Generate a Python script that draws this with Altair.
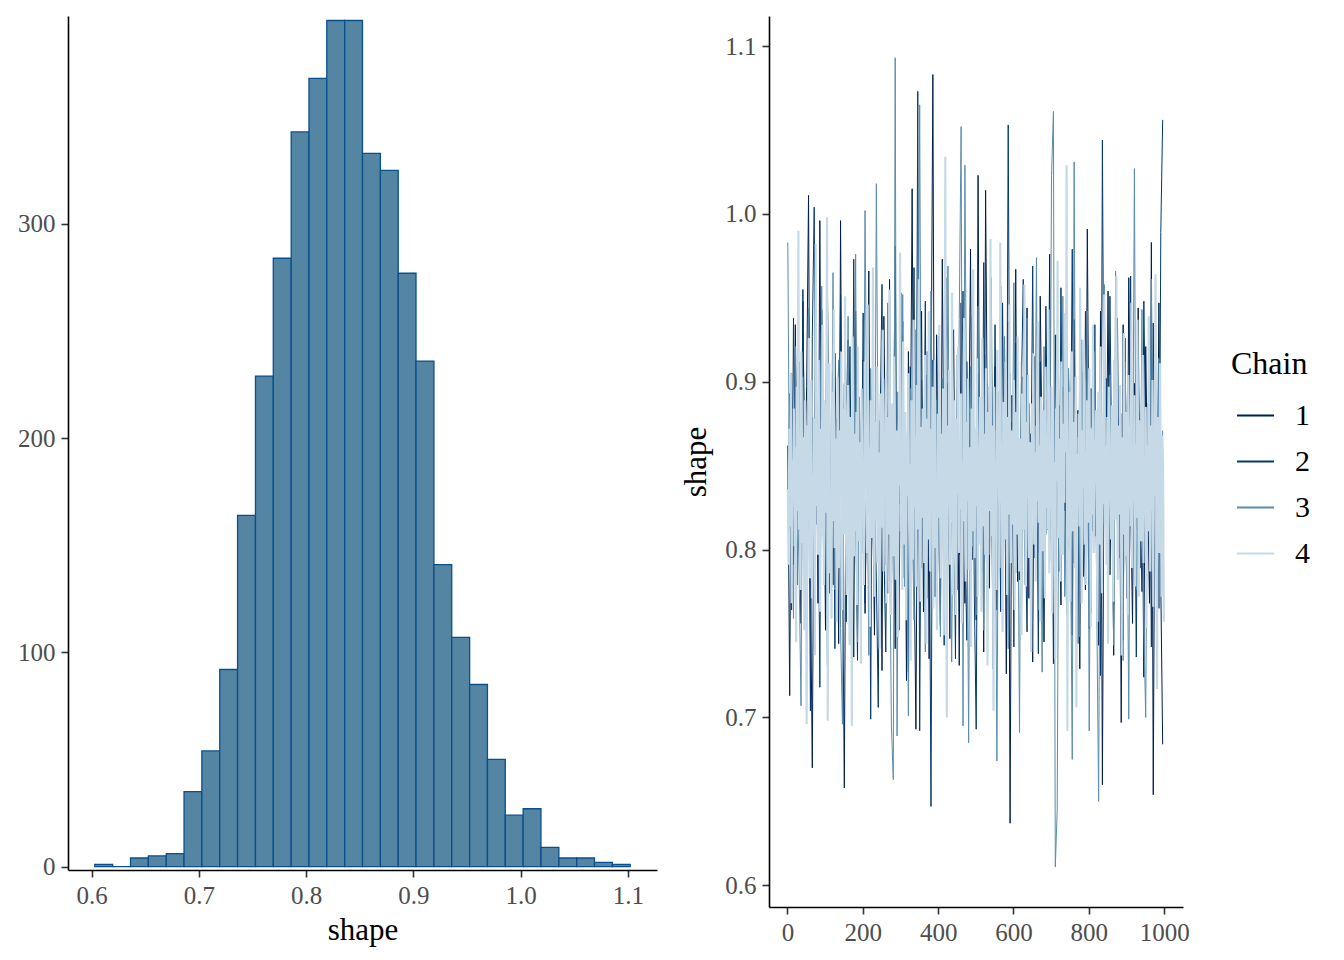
import altair as alt
import pandas as pd

FONT = "Liberation Serif"

# ---------------- histogram (left panel) ----------------
hist_edges = [0.6029, 0.6195, 0.6362, 0.6528, 0.6695, 0.6861, 0.7027, 0.7194,
              0.7360, 0.7527, 0.7693, 0.7860, 0.8026, 0.8192, 0.8359, 0.8525,
              0.8692, 0.8858, 0.9024, 0.9191, 0.9357, 0.9524, 0.9690, 0.9856,
              1.0023, 1.0189, 1.0356, 1.0522, 1.0688, 1.0855, 1.1021]
hist_counts = [1, 0, 4, 5, 6, 35, 54, 92, 164, 229, 284, 343, 368, 395, 395,
               333, 325, 277, 236, 141, 107, 85, 50, 24, 27, 9, 4, 4, 2, 1]
hist_ticks = [0.6, 0.7, 0.8, 0.9, 1.0, 1.1]
count_ticks = [0, 100, 200, 300]

# ---------------- trace (right panel) ----------------
iterations_dark = list(range(1, 1001, 5))    # chains 1-3
iterations_light = list(range(1, 1001, 2))   # chain 4
chain_names = ["1", "2", "3", "4"]
chain_colors = ["#011f4b", "#03396c", "#5a8cab", "#c6d9e7"]
chain_widths = [1.0, 1.0, 1.0, 2.2]
iter_ticks = [0, 200, 400, 600, 800, 1000]
shape_ticks = [0.6, 0.7, 0.8, 0.9, 1.0, 1.1]

chain1 = [
    0.862, 0.713, 0.905, 0.791, 0.934, 0.818, 0.876, 0.756, 0.948, 0.829,
    0.897, 1.011, 0.784, 0.670, 0.872, 0.931, 0.768, 0.996, 0.813, 0.889,
    0.752, 0.958, 0.801, 0.846, 0.779, 0.917, 0.838, 0.744, 0.996, 0.807,
    0.658, 0.883, 0.925, 0.771, 0.859, 0.736, 0.942, 0.824, 0.868, 0.795,
    0.913, 0.762, 0.851, 0.966, 0.787, 0.835, 0.749, 0.902, 0.816, 0.877,
    0.728, 0.939, 0.843, 0.774, 0.961, 0.809, 0.866, 0.741, 0.894, 0.827,
    0.953, 0.783, 0.871, 0.722, 0.918, 0.846, 1.015, 0.798, 0.693, 0.884,
    0.811, 0.942, 0.763, 0.857, 0.904, 0.735, 0.881, 1.083, 0.772, 0.928,
    0.819, 0.755, 0.973, 0.838, 0.786, 0.899, 0.747, 0.864, 0.931, 0.804,
    0.878, 0.731, 0.947, 0.826, 0.768, 0.912, 0.853, 0.979, 0.794, 0.839,
    0.758, 1.023, 0.815, 0.886, 0.739, 1.014, 0.861, 0.777, 0.924, 0.832,
    0.909, 0.764, 0.851, 0.957, 0.789, 0.873, 0.726, 0.936, 0.637, 0.892,
    0.818, 0.967, 0.781, 0.848, 0.752, 0.903, 0.836, 0.944, 0.771, 0.869,
    0.733, 0.915, 0.824, 0.798, 0.951, 0.857, 0.745, 0.889, 0.812, 0.976,
    0.791, 0.862, 0.738, 0.928, 0.845, 0.767, 0.897, 0.823, 0.959, 0.801,
    0.874, 0.749, 0.937, 0.816, 0.883, 0.729, 0.906, 0.852, 0.776, 0.991,
    0.834, 0.762, 0.918, 0.808, 0.871, 0.743, 0.942, 0.660, 0.886, 0.827,
    0.954, 0.785, 0.861, 0.737, 0.913, 0.819, 0.878, 0.697, 0.934, 0.843,
    0.771, 0.962, 0.828, 0.756, 0.899, 0.812, 0.944, 0.789, 0.867, 0.724,
    0.921, 0.838, 0.768, 0.983, 0.654, 0.892, 0.806, 0.947, 0.779, 0.684,
]
chain2 = [
    0.821, 0.893, 0.764, 0.938, 0.847, 0.779, 0.912, 0.803, 0.955, 0.836,
    0.748, 0.881, 0.704, 0.927, 1.004, 0.815, 0.869, 0.718, 0.943, 0.792,
    0.859, 0.967, 0.774, 0.833, 0.906, 0.741, 0.878, 0.812, 0.952, 0.785,
    0.899, 0.757, 0.846, 0.921, 0.798, 0.973, 0.826, 0.734, 0.887, 0.809,
    0.941, 0.768, 0.854, 0.892, 0.699, 0.917, 0.831, 0.783, 0.706, 0.874,
    0.958, 0.803, 0.739, 0.866, 0.925, 0.776, 0.848, 0.981, 0.817, 0.752,
    0.884, 0.936, 0.793, 0.862, 0.727, 0.909, 0.841, 0.968, 0.786, 1.073,
    0.692, 0.901, 0.823, 0.948, 0.771, 0.855, 0.647, 0.913, 0.838, 0.759,
    0.927, 0.806, 0.871, 0.743, 0.962, 0.829, 0.781, 0.893, 0.854, 0.735,
    0.916, 0.797, 0.868, 0.954, 0.812, 0.746, 0.882, 0.831, 0.939, 0.773,
    0.693, 0.905, 0.844, 0.787, 0.971, 0.822, 0.758, 0.897, 0.861, 0.729,
    0.934, 0.809, 0.872, 0.763, 0.947, 0.836, 0.791, 1.053, 0.818, 0.876,
    0.742, 0.923, 0.857, 0.782, 0.896, 0.961, 0.814, 0.751, 0.887, 0.833,
    0.969, 0.795, 0.864, 0.738, 0.912, 0.827, 0.778, 0.945, 0.851, 0.806,
    0.889, 0.732, 0.928, 0.843, 0.787, 0.956, 0.819, 0.874, 0.761, 0.907,
    0.837, 0.979, 0.792, 0.859, 0.744, 0.918, 0.826, 0.784, 0.942, 0.865,
    0.753, 0.896, 0.811, 0.934, 0.776, 0.853, 0.725, 1.044, 0.832, 0.902,
    0.789, 0.951, 0.845, 0.767, 0.884, 0.938, 0.801, 0.863, 0.746, 0.926,
    0.818, 0.872, 0.963, 0.794, 0.857, 0.736, 0.911, 0.829, 0.775, 0.948,
    0.861, 0.807, 0.893, 0.742, 0.935, 0.822, 0.879, 0.765, 0.989, 1.056,
]
chain3 = [
    0.983, 0.812, 0.874, 0.759, 0.921, 0.838, 0.786, 0.707, 0.903, 0.851,
    0.768, 0.944, 0.827, 0.879, 0.741, 0.916, 0.803, 0.862, 0.957, 0.794,
    0.846, 0.731, 0.897, 0.819, 0.965, 0.776, 0.868, 0.913, 0.753, 0.696,
    0.885, 0.807, 0.939, 0.772, 0.854, 0.826, 0.976, 0.745, 0.891, 0.833,
    0.798, 1.002, 0.861, 0.737, 0.908, 0.819, 0.784, 1.018, 0.842, 0.766,
    0.924, 0.855, 0.791, 0.947, 0.813, 0.695, 0.663, 1.093, 0.689, 0.877,
    0.834, 0.952, 0.778, 0.869, 0.701, 0.896, 0.823, 0.758, 0.931, 0.845,
    1.065, 0.789, 0.866, 0.739, 0.918, 0.811, 0.954, 0.836, 0.772, 0.889,
    0.827, 0.748, 0.902, 0.861, 0.794, 0.969, 0.817, 0.733, 0.884, 0.842,
    0.776, 0.937, 1.052, 0.695, 1.029, 0.858, 0.685, 0.909, 0.802, 0.873,
    0.761, 0.945, 0.828, 0.883, 0.752, 0.916, 0.839, 0.797, 0.962, 0.814,
    0.871, 0.674, 0.894, 0.832, 0.769, 0.927, 0.853, 0.741, 0.905, 0.818,
    0.959, 0.786, 0.864, 0.691, 0.912, 0.847, 0.779, 0.938, 0.822, 0.756,
    0.893, 0.831, 0.974, 0.764, 0.858, 0.727, 0.921, 0.809, 0.876, 0.793,
    1.023, 1.061, 0.611, 0.645, 0.886, 0.824, 0.951, 0.772, 0.849, 0.908,
    0.816, 0.675, 1.031, 0.783, 0.867, 0.748, 0.925, 0.835, 0.801, 0.942,
    0.692, 0.873, 0.854, 0.918, 0.767, 0.650, 0.897, 0.812, 0.958, 0.839,
    0.781, 0.904, 0.826, 0.743, 0.966, 0.858, 0.795, 0.881, 0.734, 0.912,
    0.847, 0.699, 0.928, 0.818, 1.027, 0.776, 0.869, 0.806, 0.943, 0.752,
    0.700, 0.887, 0.833, 0.961, 0.789, 0.853, 0.736, 0.914, 0.824, 0.871,
]
chain4 = [
    0.836, 0.791, 0.872, 0.814, 0.905, 0.768, 0.853, 0.829, 0.884, 0.802,
    0.861, 0.745, 0.897, 0.823, 0.990, 0.812, 0.858, 0.776, 0.918, 0.839,
    0.804, 0.867, 0.752, 0.889, 0.831, 0.696, 0.874, 0.818, 0.926, 0.783,
    0.849, 0.901, 0.771, 0.844, 0.815, 0.878, 0.737, 0.982, 0.826, 0.864,
    0.797, 0.913, 0.841, 0.763, 0.872, 0.808, 0.934, 0.852, 0.779, 0.887,
    0.822, 0.868, 0.998, 0.698, 0.845, 0.911, 0.786, 0.833, 0.759, 0.894,
    0.817, 0.943, 0.801, 0.866, 0.828, 0.757, 0.903, 0.846, 0.789, 0.871,
    0.832, 0.918, 0.764, 0.857, 0.884, 0.809, 0.951, 0.826, 0.773, 0.862,
    0.898, 0.814, 0.743, 0.879, 0.838, 0.695, 0.927, 0.852, 0.796, 0.869,
    0.811, 0.882, 0.767, 0.921, 0.843, 0.805, 0.864, 0.732, 0.896, 0.828,
    0.853, 0.779, 0.912, 0.837, 0.874, 0.798, 0.946, 0.821, 0.861, 0.754,
    0.889, 0.835, 0.807, 0.968, 0.843, 0.772, 0.876, 0.817, 0.909, 0.792,
    0.858, 0.826, 0.741, 0.893, 0.849, 0.813, 0.931, 0.787, 0.866, 0.834,
    0.902, 0.768, 0.845, 0.879, 0.809, 0.955, 0.823, 0.761, 0.887, 0.841,
    0.796, 0.915, 0.856, 0.782, 0.871, 0.827, 0.748, 0.894, 0.838, 0.977,
    0.811, 0.863, 0.776, 0.924, 0.847, 0.803, 0.882, 0.758, 0.869, 0.832,
    0.905, 0.818, 0.851, 0.734, 0.889, 0.842, 0.794, 0.937, 0.825, 0.867,
    0.778, 0.898, 0.836, 0.812, 0.961, 0.847, 0.769, 0.873, 0.819, 0.884,
    0.853, 0.792, 0.916, 0.831, 0.744, 0.878, 0.806, 0.942, 0.859, 0.787,
    0.872, 0.824, 0.897, 0.765, 0.848, 0.913, 0.801, 0.836, 0.752, 0.881,
    0.819, 0.934, 0.857, 0.783, 0.869, 0.812, 0.896, 0.749, 0.842, 1.034,
    0.827, 0.700, 0.874, 0.838, 0.907, 0.791, 0.862, 0.816, 0.953, 0.773,
    0.846, 0.889, 0.807, 0.761, 0.878, 0.833, 0.921, 0.798, 0.865, 0.824,
    0.893, 0.756, 0.852, 0.817, 0.938, 0.843, 0.781, 0.876, 0.829, 0.902,
    0.788, 0.861, 0.834, 0.742, 0.884, 0.811, 0.967, 0.848, 0.795, 0.872,
    0.826, 0.914, 0.772, 0.857, 0.803, 0.891, 0.839, 0.763, 0.926, 0.851,
    0.814, 0.869, 0.797, 0.908, 0.845, 0.731, 0.882, 0.823, 0.859, 0.985,
    0.808, 0.874, 0.836, 0.704, 0.897, 0.818, 0.851, 0.776, 0.919, 0.843,
    0.867, 0.789, 0.983, 0.828, 0.862, 0.751, 0.888, 0.834, 0.806, 0.912,
    0.847, 0.773, 0.879, 0.821, 0.946, 0.856, 0.792, 0.871, 0.815, 0.838,
    0.901, 0.764, 0.853, 0.882, 0.809, 0.927, 0.841, 0.787, 0.866, 0.826,
    0.749, 0.893, 0.837, 0.812, 0.958, 0.849, 0.778, 0.876, 0.831, 0.904,
    0.795, 0.864, 0.822, 0.739, 0.887, 0.845, 0.917, 0.803, 0.858, 0.781,
    0.874, 0.829, 0.936, 0.816, 0.862, 0.757, 0.891, 0.838, 0.799, 0.883,
    0.847, 0.771, 0.909, 0.825, 0.868, 0.812, 0.943, 0.786, 0.854, 0.833,
    0.897, 0.762, 0.878, 0.819, 0.852, 0.735, 0.884, 0.841, 0.972, 0.807,
    0.866, 0.823, 0.781, 0.912, 0.849, 0.797, 0.875, 0.828, 0.941, 0.858,
    1.029, 0.692, 0.861, 0.832, 0.894, 0.769, 0.847, 0.918, 0.811, 0.876,
    0.834, 0.789, 0.903, 0.706, 0.857, 0.826, 0.881, 0.814, 0.956, 0.843,
    0.768, 0.871, 0.837, 0.925, 0.803, 0.859, 0.779, 0.889, 0.832, 0.816,
    0.908, 0.846, 0.754, 0.872, 0.821, 0.934, 0.798, 0.865, 0.839, 0.883,
    0.812, 0.757, 0.894, 0.848, 0.803, 0.921, 0.836, 0.774, 0.869, 0.827,
    0.952, 0.815, 0.862, 0.791, 0.879, 0.744, 0.897, 0.834, 0.853, 0.806,
    0.886, 0.827, 0.769, 0.913, 0.845, 0.818, 0.963, 0.839, 0.782, 0.874,
    0.821, 0.898, 0.851, 0.737, 0.867, 0.809, 0.929, 0.843, 0.796, 0.882,
    0.838, 0.761, 0.904, 0.825, 0.873, 0.814, 0.947, 0.789, 0.856, 0.831,
    0.892, 0.778, 0.863, 0.819, 0.937, 0.848, 0.772, 0.877, 0.834, 0.805,
    0.869, 0.916, 0.792, 0.846, 0.828, 0.885, 0.753, 0.862, 0.811, 0.939,
    0.841, 0.787, 0.874, 0.823, 0.901, 0.766, 0.857, 0.832, 0.964, 0.816,
    0.717, 0.879, 0.845, 0.798, 0.911, 0.836, 0.772, 0.868, 0.853, 0.757,
]

# ---------------- build tables ----------------
hist_df = pd.DataFrame({
    "lo": hist_edges[:-1],
    "hi": hist_edges[1:],
    "count": hist_counts,
})

rows = []
chain_series = [
    (chain1, iterations_dark),
    (chain2, iterations_dark),
    (chain3, iterations_dark),
    (chain4, iterations_light),
]
for name, (series, its) in zip(chain_names, chain_series):
    for it, v in zip(its, series):
        rows.append({"chain": name, "iteration": it, "value": v})
trace_df = pd.DataFrame(rows)

# ---------------- charts ----------------
hist = alt.Chart(hist_df).mark_rect(
    fill="#5485a2", stroke="#0a4f8e", strokeWidth=1.3
).encode(
    x=alt.X("lo:Q",
            scale=alt.Scale(domain=[0.5779, 1.1271], nice=False, zero=False),
            axis=alt.Axis(values=hist_ticks, format=".1f", title="shape",
                          titlePadding=7)),
    x2="hi:Q",
    y=alt.Y("count:Q",
            scale=alt.Scale(domain=[-1.6, 397.1], nice=False, zero=False),
            axis=alt.Axis(values=count_ticks, format="d", title=None)),
    y2=alt.datum(0),
).properties(width=589, height=854)

x_trace = alt.X("iteration:Q",
                scale=alt.Scale(domain=[-48.95, 1049.95], nice=False, zero=False),
                axis=alt.Axis(values=iter_ticks, format="d", title=None))
y_trace = alt.Y("value:Q",
                scale=alt.Scale(domain=[0.5871, 1.1179], nice=False, zero=False),
                axis=alt.Axis(values=shape_ticks, format=".1f", title="shape",
                              titlePadding=12))
c_trace = alt.Color("chain:N",
                    scale=alt.Scale(domain=chain_names, range=chain_colors),
                    legend=alt.Legend(title="Chain"))

layers = []
for name, w in zip(chain_names, chain_widths):
    layers.append(
        alt.Chart(trace_df)
        .transform_filter(alt.datum.chain == name)
        .mark_line(strokeWidth=w, clip=True)
        .encode(x=x_trace, y=y_trace, color=c_trace)
    )
trace = alt.layer(*layers).properties(width=414, height=891)

chart = alt.hconcat(hist, trace, spacing=23).resolve_scale(
    color="independent"
).properties(
    padding={"left": 9, "top": 8, "right": 5, "bottom": 5}
).configure_view(
    stroke=None
).configure_axis(
    grid=False,
    domainColor="black",
    domainWidth=1.6,
    tickColor="#333333",
    tickWidth=1.6,
    tickSize=7,
    labelFont=FONT,
    labelFontSize=25,
    labelColor="#4d4d4d",
    labelPadding=6,
    labelFlush=False,
    labelOverlap=False,
    titleFont=FONT,
    titleFontSize=31,
    titleFontWeight="normal",
    titleColor="black",
).configure_legend(
    orient="none",
    legendX=462,
    legendY=333,
    titleFont=FONT,
    titleFontSize=32,
    titleFontWeight="normal",
    titleColor="black",
    titlePadding=15,
    labelFont=FONT,
    labelFontSize=30,
    labelColor="black",
    labelOffset=20,
    symbolType="stroke",
    symbolSize=1369,
    symbolStrokeWidth=2,
    symbolOffset=5,
    rowPadding=11,
)

chart.save("out.html", embed_options={"renderer": "svg", "actions": False})
